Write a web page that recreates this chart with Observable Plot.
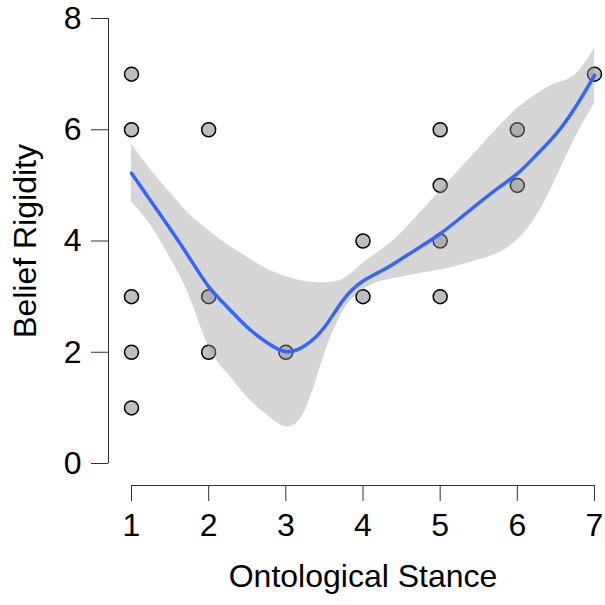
<!DOCTYPE html>
<html>
<head>
<meta charset="utf-8">
<script src="https://cdn.jsdelivr.net/npm/d3@7"></script>
<script src="https://cdn.jsdelivr.net/npm/@observablehq/plot@0.6"></script>
<style>
  html, body { margin: 0; padding: 0; background: #ffffff; }
</style>
</head>
<body>
<div id="chart"></div>
<script>
// Observed points
const pointX = [1, 1, 1, 1, 1, 2, 2, 2, 3, 4, 4, 5, 5, 5, 5, 6, 6, 7];
const pointY = [7, 6, 3, 2, 1, 6, 3, 2, 2, 4, 3, 6, 5, 4, 3, 6, 5, 7];

// Smoothed fit and confidence band
const smoothX = [1, 1.25, 1.5, 1.75, 2, 2.25, 2.5, 2.75, 3, 3.25, 3.5, 3.75, 4, 4.25, 4.5, 4.75, 5, 5.25, 5.5, 5.75, 6, 6.25, 6.5, 6.75, 7];
const fitY   = [5.22, 4.72, 4.22, 3.70, 3.18, 2.80, 2.45, 2.18, 2.01, 2.12, 2.45, 2.95, 3.28, 3.47, 3.68, 3.90, 4.13, 4.40, 4.68, 4.95, 5.21, 5.55, 5.92, 6.40, 6.98];
const lowerY = [4.70, 4.28, 3.70, 3.01, 2.10, 1.61, 1.19, 0.88, 0.66, 0.95, 1.95, 2.75, 3.12, 3.28, 3.35, 3.42, 3.48, 3.56, 3.66, 3.78, 4.02, 4.45, 5.12, 5.85, 6.47];
const upperY = [5.75, 5.28, 4.87, 4.48, 4.19, 3.93, 3.71, 3.50, 3.36, 3.27, 3.25, 3.32, 3.60, 3.85, 4.15, 4.52, 4.90, 5.28, 5.66, 6.04, 6.38, 6.64, 6.83, 6.99, 7.46];

// Ticks and labels
const xTicks = [1, 2, 3, 4, 5, 6, 7];
const yTicks = [0, 2, 4, 6, 8];
const xTitle = "Ontological Stance";
const yTitle = "Belief Rigidity";

const points = pointX.map((x, i) => ({x, y: pointY[i]}));
const smooth = smoothX.map((x, i) => ({x, fit: fitY[i], lo: lowerY[i], hi: upperY[i]}));

const font = "'Liberation Sans', Arial, Helvetica, sans-serif";
const axisColor = "#333333";

const chart = Plot.plot({
  width: 605,
  height: 605,
  marginLeft: 131,
  marginRight: 11,
  marginTop: 18,
  marginBottom: 142,
  x: {domain: [1, 7]},
  y: {domain: [0, 8]},
  style: {fontFamily: font, fontSize: "32px", background: "#ffffff", color: "#000000", overflow: "visible"},
  marks: [
    Plot.dot(points, {x: "x", y: "y", r: 7, fill: "#bebebe", stroke: "#000000", strokeWidth: 1.5}),
    Plot.areaY(smooth, {x: "x", y1: "lo", y2: "hi", curve: "natural", fill: "#999999", fillOpacity: 0.4}),
    Plot.line(smooth, {x: "x", y: "fit", curve: "natural", stroke: "#3366FF", strokeWidth: 3.5}),
    Plot.ruleX([xTicks[0]], {y1: yTicks[0], y2: yTicks[yTicks.length - 1], dx: -23, stroke: axisColor}),
    Plot.axisY(yTicks, {anchor: "left", tickSize: 17, tickPadding: 10, dx: -23, label: null, tickFormat: d => String(d), stroke: axisColor, fill: "#000000", fontSize: 32}),
    Plot.ruleY([yTicks[0]], {x1: xTicks[0], x2: xTicks[xTicks.length - 1], dy: 22, stroke: axisColor}),
    Plot.axisX(xTicks, {anchor: "bottom", tickSize: 16, tickPadding: 12, dy: 22, label: null, tickFormat: d => String(d), stroke: axisColor, fill: "#000000", fontSize: 32}),
    Plot.text([xTitle], {frameAnchor: "bottom", textAnchor: "middle", dy: 123, fontSize: 32, fill: "#000000"}),
    Plot.text([yTitle], {frameAnchor: "left", textAnchor: "middle", rotate: -90, dx: -106, fontSize: 32, fill: "#000000"})
  ]
});

document.getElementById("chart").appendChild(chart);
</script>
</body>
</html>
